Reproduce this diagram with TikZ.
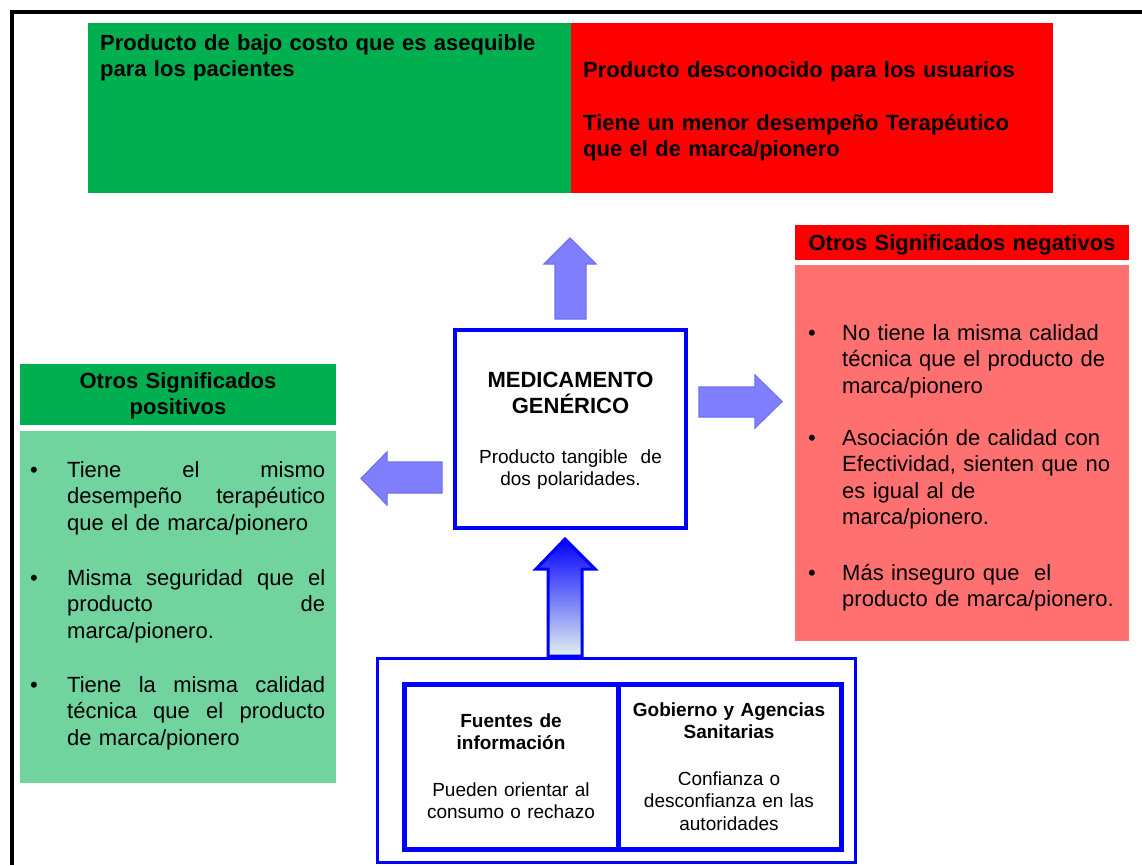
\documentclass[tikz,border=0pt]{standalone}
\usepackage{fontspec}
\setmainfont{Liberation Sans}
\usetikzlibrary{shadows}
\definecolor{vgreen}{HTML}{00B050}
\definecolor{lgreen}{HTML}{71D39E}
\definecolor{vred}{HTML}{FF0000}
\definecolor{lred}{HTML}{FF7070}
\definecolor{arrowfill}{HTML}{8080FF}
\definecolor{arrowline}{HTML}{6F6FF5}
\definecolor{pblue}{HTML}{0000FF}
\definecolor{fadefill}{HTML}{E2F2F0}

\begin{document}
\begin{tikzpicture}[x=1pt,y=-1pt,
  box/.style={inner sep=0,outer sep=0,anchor=north west},
  txt/.style={inner sep=0,anchor=base west,align=left,text width=460},
  ctxt/.style={inner sep=0,anchor=base,align=center,text width=320},
  big/.style={font=\fontsize{22}{26.5}\selectfont},
  bigb/.style={font=\bfseries\fontsize{22}{26.5}\selectfont},
  small/.style={font=\fontsize{19}{22.5}\selectfont},
  smallb/.style={font=\bfseries\fontsize{19}{22}\selectfont},
  barrow/.style={fill=arrowfill,draw=arrowline,line width=1.2pt,line join=miter},
  panel/.style={box,draw=pblue,fill=white,line width=5pt,minimum height=165,
    drop shadow={opacity=0.25,shadow xshift=2pt,shadow yshift=-2pt}}]
  \useasboundingbox (0,0) rectangle (1142,865);
  % frame
  \draw [line width=4pt](10,12) -- (1142,12);
  \draw [line width=4pt](12,10) -- (12,865);
  % top boxes
  \node[box,fill=vgreen,minimum width=483,minimum height=170] (cheap) at (88,23) {};
  \node[txt,bigb] (cheaptxt) at (100,50) {Producto de bajo costo que es asequible\\para los pacientes};
  \node[box,fill=vred,minimum width=482,minimum height=170] (unknown) at (571,23) {};
  \node[txt,bigb] (unknowntxt) at (583,77) {Producto desconocido para los usuarios\\[26.5pt]Tiene un menor desempeño Terapéutico\\que el de marca/pionero};
  % generic drug
  \node[box,draw=pblue,line width=4pt,minimum width=231,minimum height=198] (generic) at (455,330) {};
  \node[ctxt,bigb] (generictitle) at (570.5,387) {MEDICAMENTO\\GENÉRICO};
  \node[ctxt,small] (generictxt) at (570.5,463) {Producto tangible\ \ de\\dos polaridades.};
  % arrows
  \draw [barrow](555,319) -- (555,264) -- (544,264) -- (570,238) -- (596,264) -- (586,264) -- (586,319) -- cycle;
  \draw [barrow](699,387) -- (755,387) -- (755,375) -- (782,401.5) -- (755,428) -- (755,417) -- (699,417) -- cycle;
  \draw [barrow](442,462) -- (387,462) -- (387,452) -- (361,478.5) -- (387,505) -- (387,493) -- (442,493) -- cycle;
  \draw [draw=pblue,line width=3pt,top color=pblue,middle color=pblue!80!fadefill,bottom color=fadefill]
    (548,656) -- (548,569) -- (536,569) -- (565,539) -- (595,569) -- (582,569) -- (582,656) -- cycle;
  % positive meanings
  \node[box,fill=vgreen,minimum width=316,minimum height=61] (poshead) at (20,364) {};
  \node[ctxt,bigb] (posheadtxt) at (178,388) {Otros Significados\\positivos};
  \node[box,fill=lgreen,minimum width=316,minimum height=352] (posbody) at (20,431) {};
  \node[txt,big] (posa) at (30,477) {\textbullet};
  \node[txt,big,text width=258] (posatxt) at (67,477) {Tiene\hfill el\hfill mismo\\desempeño\hfill terapéutico\\que el de marca/pionero};
  \node[txt,big] (posb) at (30,585) {\textbullet};
  \node[txt,big,text width=258] (posbtxt) at (67,585) {Misma\hfill seguridad\hfill que\hfill el\\producto\hfill de\\marca/pionero.};
  \node[txt,big] (posc) at (30,692) {\textbullet};
  \node[txt,big,text width=258] (posctxt) at (67,692) {Tiene\hfill la\hfill misma\hfill calidad\\técnica\hfill que\hfill el\hfill producto\\de marca/pionero};
  % negative meanings
  \node[box,fill=vred,minimum width=334,minimum height=35] (neghead) at (795,225) {};
  \node[ctxt,bigb] (negheadtxt) at (962,250) {Otros Significados negativos};
  \node[box,fill=lred,minimum width=334,minimum height=376] (negbody) at (795,265) {};
  \node[txt,big] (nega) at (808,340) {\textbullet};
  \node[txt,big,text width=290] (negatxt) at (842,340) {No tiene la misma calidad\\técnica que el producto de\\marca/pionero};
  \node[txt,big] (negb) at (808,445) {\textbullet};
  \node[txt,big,text width=290] (negbtxt) at (842,445) {Asociación de calidad con\\Efectividad, sienten que no\\es igual al de\\marca/pionero.};
  \node[txt,big] (negc) at (808,580) {\textbullet};
  \node[txt,big,text width=290] (negctxt) at (842,580) {Más inseguro que\ \ el\\producto de marca/pionero.};
  % influences
  \node[box,draw=pblue,line width=3pt,minimum width=478,minimum height=204] (influence) at (377,658) {};
  \node[panel,minimum width=214] (sources) at (404,684) {};
  \node[panel,minimum width=223] (gov) at (618,684) {};
  \node[ctxt,smallb,text width=210] (sourcestitle) at (511,727) {Fuentes de\\información};
  \node[ctxt,small,text width=210] (sourcestxt) at (511,796) {Pueden orientar al\\consumo o rechazo};
  \node[ctxt,smallb,text width=220] (govtitle) at (729,716) {Gobierno y Agencias\\Sanitarias};
  \node[ctxt,small,text width=220] (govtxt) at (729,785) {Confianza o\\desconfianza en las\\autoridades};
\end{tikzpicture}
\end{document}
